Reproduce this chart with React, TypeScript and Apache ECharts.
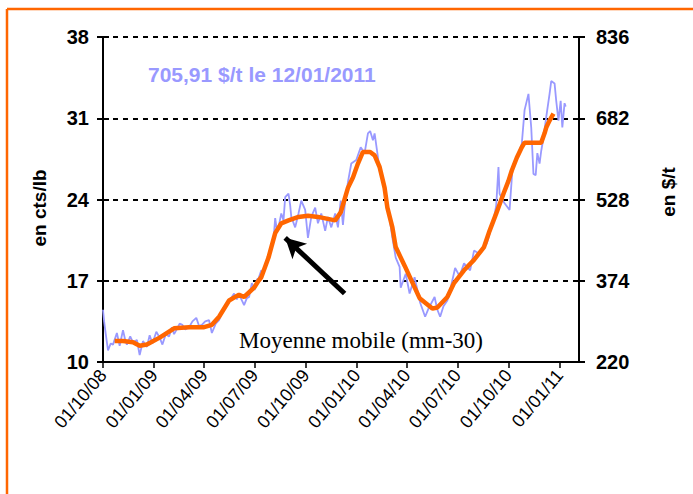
import React, { useEffect, useRef } from 'react';
import * as echarts from 'echarts';

// ---- data ----
const xTickDates = ['2008-10-01', '2009-01-01', '2009-04-01', '2009-07-01', '2009-10-01', '2010-01-01', '2010-04-01', '2010-07-01', '2010-10-01', '2011-01-01'];
const xMinDate = '2008-10-01';
const xMaxDate = '2011-02-05';
const leftTicks = [10, 17, 24, 31, 38];
const rightTicks = [220, 374, 528, 682, 836];

const priceDates = [
  '2008-10-01', '2008-10-03', '2008-10-06', '2008-10-10', '2008-10-15', '2008-10-19', '2008-10-26', '2008-10-31',
  '2008-11-06', '2008-11-10', '2008-11-13', '2008-11-19', '2008-11-24', '2008-12-01', '2008-12-06', '2008-12-12',
  '2008-12-19', '2008-12-24', '2008-12-29', '2009-01-05', '2009-01-11', '2009-01-16', '2009-01-22', '2009-01-28',
  '2009-02-02', '2009-02-06', '2009-02-10', '2009-02-16', '2009-02-21', '2009-02-26', '2009-03-05', '2009-03-11',
  '2009-03-18', '2009-03-23', '2009-03-28', '2009-04-03', '2009-04-10', '2009-04-15', '2009-04-22', '2009-04-28',
  '2009-05-03', '2009-05-10', '2009-05-16', '2009-05-21', '2009-05-25', '2009-05-30', '2009-06-03', '2009-06-08',
  '2009-06-12', '2009-06-17', '2009-06-21', '2009-06-26', '2009-07-01', '2009-07-05', '2009-07-08', '2009-07-13',
  '2009-07-17', '2009-07-21', '2009-07-26', '2009-07-31', '2009-08-04', '2009-08-07', '2009-08-10', '2009-08-13',
  '2009-08-18', '2009-08-22', '2009-08-25', '2009-08-31', '2009-09-03', '2009-09-05', '2009-09-12', '2009-09-18',
  '2009-09-23', '2009-09-30', '2009-10-05', '2009-10-11', '2009-10-18', '2009-10-23', '2009-10-29', '2009-11-05',
  '2009-11-10', '2009-11-16', '2009-11-23', '2009-11-28', '2009-12-03', '2009-12-07', '2009-12-11', '2009-12-16',
  '2009-12-22', '2009-12-31', '2010-01-08', '2010-01-15', '2010-01-21', '2010-01-25', '2010-01-30', '2010-02-02',
  '2010-02-07', '2010-02-11', '2010-02-20', '2010-02-25', '2010-03-06', '2010-03-12', '2010-03-19', '2010-03-21',
  '2010-03-30', '2010-04-06', '2010-04-15', '2010-04-25', '2010-05-04', '2010-05-10', '2010-05-21', '2010-05-26',
  '2010-05-31', '2010-06-06', '2010-06-13', '2010-06-18', '2010-06-27', '2010-07-05', '2010-07-13', '2010-07-24',
  '2010-07-31', '2010-08-10', '2010-08-23', '2010-09-04', '2010-09-09', '2010-09-13', '2010-09-15', '2010-09-22',
  '2010-10-03', '2010-10-08', '2010-10-25', '2010-10-30', '2010-11-06', '2010-11-11', '2010-11-15', '2010-11-19',
  '2010-11-22', '2010-11-26', '2010-11-29', '2010-12-03', '2010-12-08', '2010-12-14', '2010-12-17', '2010-12-23',
  '2010-12-26', '2010-12-30', '2011-01-03', '2011-01-06', '2011-01-10', '2011-01-12',
];
const priceValues = [
  14.5, 13.5, 12.4, 11.0, 11.6, 11.5, 12.5, 11.4,
  12.75, 11.9, 11.5, 12.2, 11.7, 11.9, 10.6, 11.8,
  11.3, 12.3, 11.6, 12.6, 12.1, 11.5, 12.4, 12.2,
  13.0, 12.4, 12.75, 13.3, 13.2, 12.8, 13.0, 13.5,
  13.8, 13.1, 13.2, 13.5, 13.6, 12.5, 13.3, 13.6,
  14.2, 14.9, 15.3, 15.6, 15.9, 15.4, 15.8, 15.3,
  14.9, 15.5, 15.6, 16.8, 16.2, 17.1, 17.2, 17.9,
  17.6, 18.5, 19.2, 19.9, 20.5, 22.4, 21.4, 21.6,
  22.8, 22.2, 24.2, 24.5, 23.5, 22.5, 21.6, 22.8,
  23.9, 23.1, 20.7, 22.5, 23.3, 21.95, 22.8, 21.3,
  22.5, 21.6, 22.8, 21.6, 23.9, 21.8, 23.9, 25.5,
  27.1, 27.4, 28.5, 28.0, 29.7, 29.9, 29.1, 29.7,
  28.0, 26.5, 25.0, 23.7, 20.7, 19.0, 18.2, 16.4,
  17.6, 15.9, 17.3, 15.1, 13.9, 14.6, 15.6, 14.5,
  13.9, 14.8, 15.3, 16.2, 18.1, 17.4, 18.5, 17.9,
  19.6, 19.3, 20.2, 22.2, 23.5, 26.8, 24.5, 23.8,
  23.1, 26.5, 28.8, 31.7, 33.1, 30.2, 26.2, 26.1,
  28.0, 27.1, 28.2, 29.3, 31.1, 33.1, 34.2, 34.0,
  32.5, 30.8, 32.5, 30.2, 32.3, 32.0,
];

const maDates = [
  '2008-10-22', '2008-11-06', '2008-11-24', '2008-12-06', '2008-12-19', '2009-01-11', '2009-02-06', '2009-03-05',
  '2009-04-01', '2009-04-15', '2009-04-28', '2009-05-16', '2009-06-03', '2009-06-12', '2009-06-30', '2009-07-08',
  '2009-07-13', '2009-07-26', '2009-08-07', '2009-08-18', '2009-08-31', '2009-09-18', '2009-10-05', '2009-10-23',
  '2009-11-23', '2009-12-03', '2009-12-16', '2009-12-25', '2010-01-03', '2010-01-12', '2010-01-25', '2010-02-02',
  '2010-02-11', '2010-02-20', '2010-02-25', '2010-03-06', '2010-03-12', '2010-03-28', '2010-04-24', '2010-05-17',
  '2010-05-26', '2010-06-13', '2010-06-25', '2010-07-13', '2010-07-31', '2010-08-18', '2010-08-28', '2010-09-09',
  '2010-09-22', '2010-10-01', '2010-10-07', '2010-10-16', '2010-10-25', '2010-10-30', '2010-11-29', '2010-12-05',
  '2010-12-08', '2010-12-14', '2010-12-21',
];
const maValues = [
  11.8, 11.8, 11.7, 11.4, 11.5, 12.1, 12.9, 13.0,
  13.0, 13.2, 13.9, 15.3, 15.8, 15.6, 16.4, 17.0,
  17.3, 19.0, 21.1, 21.95, 22.2, 22.5, 22.6, 22.5,
  22.2, 22.9, 25.0, 25.9, 27.1, 28.1, 28.1, 27.8,
  26.8, 25.0, 23.3, 21.6, 19.9, 18.3, 15.5, 14.6,
  14.7, 15.6, 16.8, 17.9, 18.8, 19.9, 21.3, 22.8,
  24.5, 25.6, 26.5, 27.6, 28.5, 28.9, 28.9, 29.7,
  30.2, 30.8, 31.4,
];

// arrow annotation endpoints [date, cts/lb]
const arrowTail: [string, number] = ['2009-12-10', 15.9];
const arrowHead: [string, number] = ['2009-08-25', 20.7];

const titleText = '705,91 $/t le 12/01/2011';
const maText = 'Moyenne mobile (mm-30)';

// ---- helpers ----
const ts = (s: string) => {
  const [y, m, d] = s.split('-').map(Number);
  return Date.UTC(y, m - 1, d);
};
const pad = (n: number) => (n < 10 ? '0' + n : '' + n);
const fmtDate = (v: number) => {
  const d = new Date(v);
  return pad(d.getUTCDate()) + '/' + pad(d.getUTCMonth() + 1) + '/' + pad(d.getUTCFullYear() % 100);
};

const SANS = '"Liberation Sans", Arial, sans-serif';
const SERIF = '"Liberation Serif", "Times New Roman", serif';

export default function App() {
  const ref = useRef<HTMLDivElement>(null);
  useEffect(() => {
    if (!ref.current) return;
    const chart = echarts.init(ref.current, null, { renderer: 'svg' });
    const priceData = priceDates.map((d, i) => [ts(d), priceValues[i]]);
    const maData = maDates.map((d, i) => [ts(d), maValues[i]]);
    const tickVals = xTickDates.map(ts);
    const lStep = leftTicks[1] - leftTicks[0];
    const rStep = rightTicks[1] - rightTicks[0];

    const yLeftBase = {
      type: 'value',
      position: 'left',
      min: leftTicks[0],
      max: leftTicks[leftTicks.length - 1],
      interval: lStep,
    };
    const yRightBase = {
      type: 'value',
      position: 'right',
      min: rightTicks[0],
      max: rightTicks[rightTicks.length - 1],
      interval: rStep,
    };

    chart.setOption({
      animation: false,
      backgroundColor: '#ffffff',
      grid: { left: 103, right: 114, top: 37, bottom: 132, containLabel: false },
      xAxis: {
        type: 'value',
        min: ts(xMinDate),
        max: ts(xMaxDate),
        axisLine: { show: true, lineStyle: { color: '#000', width: 2 } },
        axisTick: { show: true, length: 6, lineStyle: { color: '#000', width: 1.5 }, customValues: tickVals },
        axisLabel: {
          show: true,
          rotate: 50,
          margin: 10,
          color: '#000',
          fontSize: 18,
          fontFamily: SANS,
          customValues: tickVals,
          formatter: (v: number) => fmtDate(v),
        },
        splitLine: { show: false },
      },
      yAxis: [
        {
          ...yLeftBase,
          axisLine: { show: true, lineStyle: { color: '#000', width: 2 } },
          axisTick: { show: true, length: 6, lineStyle: { color: '#000', width: 2 } },
          axisLabel: { color: '#000', fontSize: 20, fontWeight: 'bold', fontFamily: SANS, margin: 14 },
          splitLine: { show: true, lineStyle: { color: '#000', width: 2, type: [5, 5] } },
        },
        {
          ...yRightBase,
          axisLine: { show: true, lineStyle: { color: '#000', width: 2 } },
          axisTick: { show: true, length: 6, lineStyle: { color: '#000', width: 2 } },
          axisLabel: { color: '#000', fontSize: 20, fontWeight: 'bold', fontFamily: SANS, margin: 17 },
          splitLine: { show: false },
        },
        {
          ...yLeftBase,
          axisLine: { show: false },
          axisTick: { show: true, inside: true, length: 6, lineStyle: { color: '#000', width: 2 } },
          axisLabel: { show: false },
          splitLine: { show: false },
        },
        {
          ...yRightBase,
          axisLine: { show: false },
          axisTick: { show: true, inside: true, length: 6, lineStyle: { color: '#000', width: 2 } },
          axisLabel: { show: false },
          splitLine: { show: false },
        },
      ],
      series: [
        {
          type: 'line',
          name: 'prix',
          yAxisIndex: 0,
          data: priceData,
          showSymbol: false,
          symbol: 'none',
          lineStyle: { color: '#9999ff', width: 1.8 },
          z: 2,
        },
        {
          type: 'line',
          name: 'mm-30',
          yAxisIndex: 0,
          data: maData,
          showSymbol: false,
          symbol: 'none',
          lineStyle: { color: '#ff6600', width: 4.5 },
          z: 3,
          markLine: {
            silent: true,
            animation: false,
            symbol: ['none', 'arrow'],
            symbolSize: [16, 20],
            label: { show: false },
            lineStyle: { color: '#000', width: 5, type: 'solid' },
            data: [[
              { coord: [ts(arrowTail[0]), arrowTail[1]] },
              { coord: [ts(arrowHead[0]), arrowHead[1]] },
            ]],
          },
        },
      ],
      graphic: [
        { type: 'line', shape: { x1: 7, y1: 9, x2: 693, y2: 9 }, style: { stroke: '#ff6600', lineWidth: 2.5 } },
        { type: 'line', shape: { x1: 7, y1: 9, x2: 7, y2: 494 }, style: { stroke: '#ff6600', lineWidth: 2.5 } },
        {
          type: 'text', x: 148, y: 74,
          style: { text: titleText, fill: '#9999ff', font: 'bold 21px ' + SANS, textAlign: 'left', textVerticalAlign: 'middle' },
        },
        {
          type: 'text', x: 361, y: 340,
          style: { text: maText, fill: '#000', font: '23px ' + SERIF, textAlign: 'center', textVerticalAlign: 'middle' },
        },
        {
          type: 'text', x: 39, y: 208, rotation: Math.PI / 2,
          style: { text: 'en cts/lb', fill: '#000', font: 'bold 19px ' + SANS, textAlign: 'center', textVerticalAlign: 'middle' },
        },
        {
          type: 'text', x: 668, y: 192, rotation: Math.PI / 2,
          style: { text: 'en $/t', fill: '#000', font: 'bold 19px ' + SANS, textAlign: 'center', textVerticalAlign: 'middle' },
        },
      ],
    });
    return () => chart.dispose();
  }, []);
  return (
    <div
      ref={ref}
      style={{ position: 'fixed', left: 0, top: 0, width: 693, height: 494, background: '#fff' }}
    />
  );
}
